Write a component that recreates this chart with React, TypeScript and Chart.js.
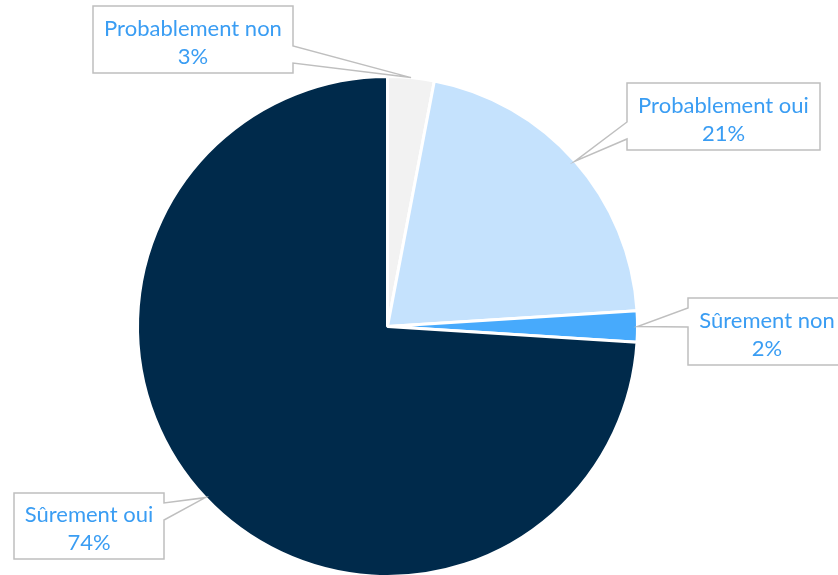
import React, { useEffect, useRef } from "react";
import { Chart, registerables } from "chart.js";
Chart.register(...registerables);

const categories = ["Probablement non", "Probablement oui", "Sûrement non", "Sûrement oui"];
const values = [3, 21, 2, 74];
const percentLabels = ["3%", "21%", "2%", "74%"];
const sliceColors = ["#f2f2f2", "#c5e2fd", "#47aafc", "#002a4b"];

// callout layout (box rectangle and wedge base offsets along facing side)
const calloutBoxes = [
  { x: 93, y: 6, w: 200, h: 67, side: "right", b1: 40, b2: 57 },
  { x: 627, y: 83, w: 193, h: 67, side: "left", b1: 39, b2: 56 },
  { x: 688, y: 298, w: 158, h: 67, side: "left", b1: 10, b2: 29 },
  { x: 14, y: 493, w: 150, h: 66, side: "right", b1: 10, b2: 27 },
];

const calloutPlugin = {
  id: "callouts",
  afterDatasetsDraw(chart: any) {
    const ctx = chart.ctx;
    const meta = chart.getDatasetMeta(0);
    meta.data.forEach((arc: any, i: number) => {
      const b = calloutBoxes[i];
      if (!b) return;
      const mid = (arc.startAngle + arc.endAngle) / 2;
      const tx = arc.x + Math.cos(mid) * arc.outerRadius;
      const ty = arc.y + Math.sin(mid) * arc.outerRadius;
      ctx.save();
      ctx.beginPath();
      if (b.side === "right") {
        ctx.moveTo(b.x, b.y);
        ctx.lineTo(b.x + b.w, b.y);
        ctx.lineTo(b.x + b.w, b.y + b.b1);
        ctx.lineTo(tx, ty);
        ctx.lineTo(b.x + b.w, b.y + b.b2);
        ctx.lineTo(b.x + b.w, b.y + b.h);
        ctx.lineTo(b.x, b.y + b.h);
      } else {
        ctx.moveTo(b.x, b.y);
        ctx.lineTo(b.x + b.w, b.y);
        ctx.lineTo(b.x + b.w, b.y + b.h);
        ctx.lineTo(b.x, b.y + b.h);
        ctx.lineTo(b.x, b.y + b.b2);
        ctx.lineTo(tx, ty);
        ctx.lineTo(b.x, b.y + b.b1);
      }
      ctx.closePath();
      ctx.fillStyle = "#ffffff";
      ctx.fill();
      ctx.strokeStyle = "#bfbfbf";
      ctx.lineWidth = 1.5;
      ctx.lineJoin = "miter";
      ctx.stroke();
      ctx.fillStyle = "#3a9df3";
      ctx.font = "22px Lato, 'Noto Sans', sans-serif";
      ctx.textAlign = "center";
      ctx.textBaseline = "middle";
      const cx = b.x + b.w / 2;
      const cy = b.y + b.h / 2;
      ctx.fillText(categories[i], cx, cy - 11);
      ctx.fillText(percentLabels[i], cx, cy + 17);
      ctx.restore();
    });
  },
};

export default function App() {
  const ref = useRef<HTMLCanvasElement>(null);
  useEffect(() => {
    document.body.style.margin = "0";
    const chart = new Chart(ref.current!, {
      type: "pie",
      data: {
        labels: categories,
        datasets: [
          {
            data: values,
            backgroundColor: sliceColors,
            borderColor: "#ffffff",
            borderWidth: 3,
          },
        ],
      },
      options: {
        responsive: false,
        animation: false,
        layout: { padding: { left: 136, right: 199, top: 75, bottom: 4 } },
        plugins: {
          legend: { display: false },
          tooltip: { enabled: false },
        },
      },
      plugins: [calloutPlugin],
    });
    return () => chart.destroy();
  }, []);
  return (
    <div style={{ width: 838, height: 575, overflow: "hidden" }}>
      <canvas ref={ref} width={838} height={582} style={{ display: "block" }} />
    </div>
  );
}
